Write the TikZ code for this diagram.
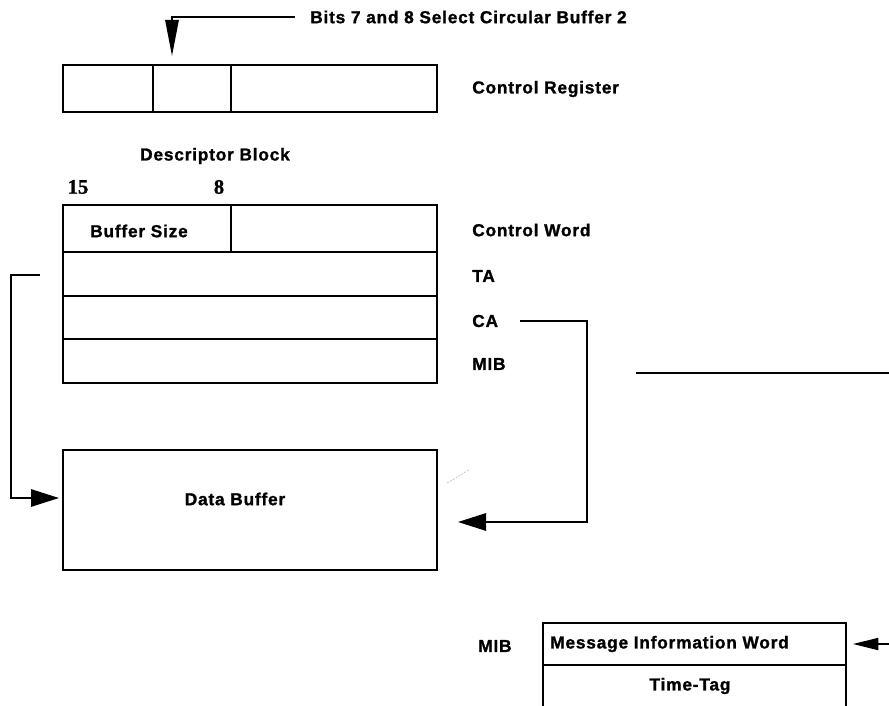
\documentclass[tikz,border=0pt]{standalone}
\usepackage{fontspec}
\setmainfont{Liberation Sans}[LetterSpace=4.5, BoldFeatures={FakeBold=1.2}]
\newfontfamily\numfont{Liberation Serif}[BoldFeatures={FakeBold=1}]
\usetikzlibrary{arrows.meta,calc,fit}
\begin{document}
\begin{tikzpicture}[x=0.75pt,y=-0.75pt,
  lbl/.style={font=\bfseries\fontsize{13}{15}\selectfont, inner sep=0pt},
  numlbl/.style={font=\numfont\bfseries\fontsize{15.5}{17}\selectfont, inner sep=0pt},
  cell/.style={draw, line width=1.5pt, inner sep=0pt},
  conn/.style={line width=1.4pt},
  bigtip/.style={-{Triangle[length=21pt,width=13pt]}},
  longtip/.style={-{Triangle[length=27pt,width=10pt]}},
  smalltip/.style={-{Triangle[length=19pt,width=9pt]}}]
\useasboundingbox (0,0) rectangle (889,706);
\clip (0,0) rectangle (889,706);

% Control register
\node[cell, fit={(63,65)(153,112)}] (cr1) {};
\node[cell, fit={(153,65)(231,112)}] (cr2) {};
\node[cell, fit={(231,65)(437,112)}] (cr3) {};
\node[lbl, anchor=west] (crlbl) at (472,89) {Control Register};
\node[lbl, anchor=west] (bits) at (310,17) {Bits 7 and 8 Select Circular Buffer 2};

% Descriptor block
\node[lbl] (dblbl) at (215,156) {Descriptor Block};
\node[numlbl] (n15) at (78,187) {15};
\node[numlbl] (n8) at (219,187) {8};
\node[cell, fit={(63,205)(231,252)}] (cw1) {};
\node[cell, fit={(231,205)(437,252)}] (cw2) {};
\node[lbl] (bs) at (139,231) {Buffer Size};
\node[cell, fit={(63,252)(437,296)}] (ta) {};
\node[cell, fit={(63,296)(437,339)}] (ca) {};
\node[cell, fit={(63,339)(437,383)}] (mib) {};
\node[lbl, anchor=west] (cwlbl) at (472,230) {Control Word};
\node[lbl, anchor=west] (talbl) at (472,276) {TA};
\node[lbl, anchor=west] (calbl) at (472,321) {CA};
\node[lbl, anchor=west] (miblbl) at (472,364) {MIB};

% Data buffer
\node[cell, fit={(63,450)(437,570)}] (db) {};
\node[lbl] (dbtxt) at (235,499) {Data Buffer};

% MIB block
\node[cell, fit={(543,623)(846,665)}] (miw) {};
\node[cell, fit={(543,665)(846,730)}] (tt) {};
\node[lbl, anchor=west] (miwtxt) at (550,644) {Message Information Word};
\node[lbl] (tttxt) at (690,686) {Time-Tag};
\node[lbl, anchor=west] (mib2) at (478,646) {MIB};

% connectors
\coordinate (tafree) at (40,275);
\coordinate (mibA) at (636,373);
\coordinate (mibB) at (889,373);
\coordinate (mibIn) at (889,644);

\draw[conn, longtip] ($(bits.west)+(-15,0)$) -| ($(cr2.north west)+(20,-8)$);
\draw[conn, bigtip] (tafree) -| (11,400) |- ($(db.north west)+(-3,49)$);
\draw[conn, bigtip] ($(calbl.east)+(22,0)$) -| (587,400) |- ($(db.north east)+(20,73)$);
\draw[line width=2.2pt] (mibA) -- (mibB);
\draw[conn, smalltip] (mibIn) -- ($(miw.east)+(6,0)$);

% faint scan mark
\draw[gray!60, line width=0.4pt, dash pattern=on 1.5pt off 1pt] (447,483) .. controls (456,478) .. (470,469);
\end{tikzpicture}
\end{document}
